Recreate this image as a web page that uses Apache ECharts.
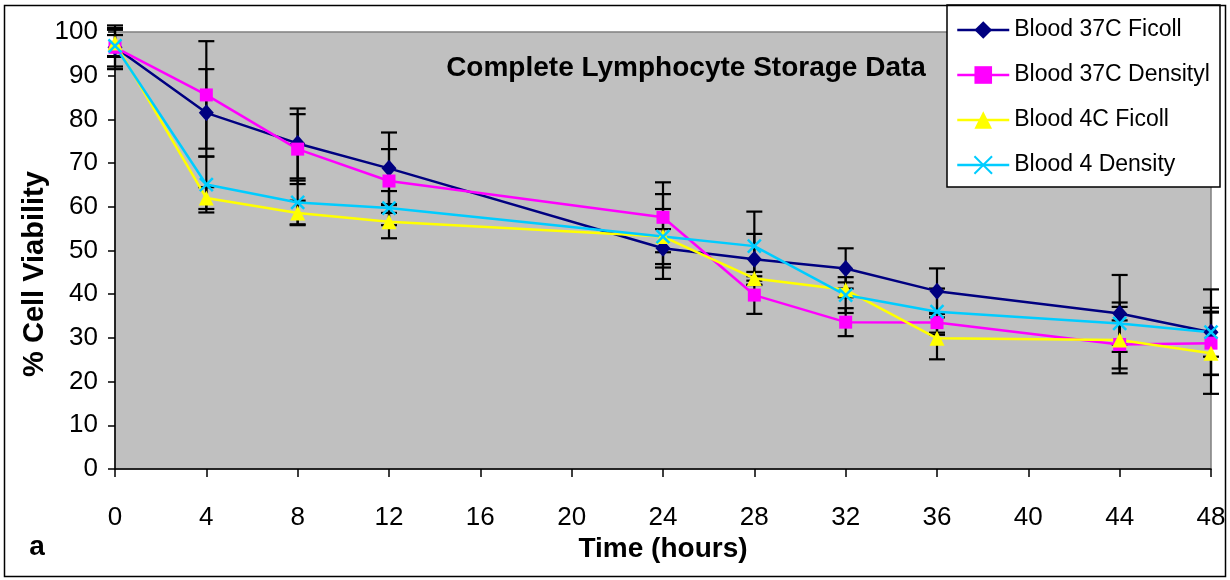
<!DOCTYPE html>
<html>
<head>
<meta charset="utf-8">
<script src="https://cdn.jsdelivr.net/npm/echarts@6/dist/echarts.min.js"></script>
<style>
  html, body { margin: 0; padding: 0; background: #ffffff; }
  #chart { width: 1230px; height: 580px; }
</style>
</head>
<body>
<div id="chart"></div>
<script>
// Storage time points (hours)
const hours = [0, 4, 8, 12, 24, 28, 32, 36, 44, 48];

// Mean % viability per storage condition
const blood37Ficoll  = [96.5, 81.5, 74.5, 68.8, 50.5, 48.0, 45.9, 40.7, 35.6, 31.3];
const blood37Density = [96.5, 85.6, 73.2, 65.9, 57.6, 39.8, 33.6, 33.5, 28.5, 28.8];
const blood4Ficoll   = [97.5, 62.0, 58.6, 56.6, 53.2, 43.6, 41.0, 29.9, 29.5, 26.5];
const blood4Density  = [96.8, 65.1, 61.0, 59.7, 53.2, 51.0, 39.8, 36.0, 33.3, 31.3];

// Error (± value) per point
const err37Ficoll  = [5.0, 10.0, 8.0, 8.2, 4.4, 5.8, 4.6, 5.2, 8.8, 9.8];
const err37Density = [4.4, 12.3, 8.0, 7.3, 8.0, 4.3, 3.2, 2.3, 5.5, 7.2];
const err4Ficoll   = [3.0, 2.5, 2.8, 3.8, 6.3, 1.5, 1.7, 4.8, 7.6, 9.3];
const err4Density  = [2.5, 6.4, 5.0, 3.9, 9.7, 7.9, 4.1, 5.3, 4.8, 5.6];

const seriesNames = ['Blood 37C Ficoll', 'Blood 37C Densityl', 'Blood 4C Ficoll', 'Blood 4 Density'];
const yTicks = { min: 0, max: 100, step: 10 };
const xTicks = { min: 0, max: 48, step: 4 };

const FONT = '"Liberation Sans", Arial, sans-serif';

function pairs(vals) {
  return hours.map((h, i) => [h, vals[i]]);
}
function errRows(vals, errs) {
  return hours.map((h, i) => [h, vals[i] - errs[i], vals[i] + errs[i]]);
}

function renderErr(params, api) {
  const x = api.value(0);
  const lo = api.coord([x, api.value(1)]);
  const hi = api.coord([x, api.value(2)]);
  const half = 8;
  const st = { stroke: '#000000', lineWidth: 2.2, fill: null };
  return {
    type: 'group',
    children: [
      { type: 'line', shape: { x1: lo[0], y1: lo[1], x2: hi[0], y2: hi[1] }, style: st },
      { type: 'line', shape: { x1: lo[0] - half, y1: lo[1], x2: lo[0] + half, y2: lo[1] }, style: st },
      { type: 'line', shape: { x1: hi[0] - half, y1: hi[1], x2: hi[0] + half, y2: hi[1] }, style: st }
    ]
  };
}

function errSeries(vals, errs) {
  return {
    type: 'custom',
    renderItem: renderErr,
    data: errRows(vals, errs),
    encode: { x: 0, y: [1, 2] },
    clip: false,
    silent: true,
    z: 1
  };
}

function lineSeries(name, vals, color, symbol, size, extraItem) {
  return {
    name: name,
    type: 'line',
    data: pairs(vals),
    symbol: symbol,
    symbolSize: size,
    showAllSymbol: true,
    lineStyle: { color: color, width: 2.5 },
    itemStyle: Object.assign({ color: color }, extraItem || {}),
    emphasis: { disabled: true },
    animation: false,
    z: 3
  };
}

const chart = echarts.init(document.getElementById('chart'), null, { renderer: 'canvas' });

chart.setOption({
  animation: false,
  backgroundColor: '#ffffff',
  grid: {
    left: 115, right: 19, top: 32, bottom: 111,
    show: true,
    backgroundColor: '#c0c0c0',
    borderColor: '#808080',
    borderWidth: 1.5
  },
  xAxis: {
    type: 'value',
    min: xTicks.min, max: xTicks.max, interval: xTicks.step,
    axisLine: { show: true, lineStyle: { color: '#000000', width: 1.5 } },
    axisTick: { show: true, inside: false, length: 8, lineStyle: { color: '#000000', width: 1.5 } },
    axisLabel: { fontFamily: FONT, fontSize: 26, color: '#000000', margin: 36 },
    splitLine: { show: false }
  },
  yAxis: {
    type: 'value',
    min: yTicks.min, max: yTicks.max, interval: yTicks.step,
    axisLine: { show: true, lineStyle: { color: '#000000', width: 1.5 } },
    axisTick: { show: true, inside: false, length: 7, lineStyle: { color: '#000000', width: 1.5 } },
    axisLabel: { fontFamily: FONT, fontSize: 26, color: '#000000', margin: 17 },
    splitLine: { show: false }
  },
  legend: {
    show: true,
    orient: 'vertical',
    left: 956,
    top: 18,
    padding: 0,
    itemGap: 21,
    itemWidth: 52,
    itemHeight: 22,
    data: seriesNames,
    lineStyle: { width: 2.5 },
    textStyle: { fontFamily: FONT, fontSize: 23, lineHeight: 24, color: '#000000' },
    selectedMode: false,
    z: 20
  },
  graphic: [
    {
      type: 'rect', z: 100, silent: true,
      shape: { x: 4.5, y: 5.5, width: 1221, height: 571 },
      style: { fill: null, stroke: '#000000', lineWidth: 1.5 }
    },
    {
      type: 'rect', z: 10, silent: true,
      shape: { x: 947, y: 5, width: 273, height: 182 },
      style: { fill: '#ffffff', stroke: '#000000', lineWidth: 1.5 }
    },
    {
      type: 'text', z: 100, silent: true,
      style: {
        text: 'Complete Lymphocyte Storage Data',
        x: 686, y: 68, textAlign: 'center', textVerticalAlign: 'middle',
        fontFamily: FONT, fontSize: 28, fontWeight: 'bold', fill: '#000000'
      }
    },
    {
      type: 'text', z: 100, silent: true,
      style: {
        text: 'Time (hours)',
        x: 663, y: 549, textAlign: 'center', textVerticalAlign: 'middle',
        fontFamily: FONT, fontSize: 28, fontWeight: 'bold', fill: '#000000'
      }
    },
    {
      type: 'text', z: 100, silent: true,
      x: 35, y: 274, rotation: Math.PI / 2,
      style: {
        text: '% Cell Viability',
        x: 0, y: 0, textAlign: 'center', textVerticalAlign: 'middle',
        fontFamily: FONT, fontSize: 29, fontWeight: 'bold', fill: '#000000'
      }
    },
    {
      type: 'text', z: 100, silent: true,
      style: {
        text: 'a',
        x: 37, y: 547, textAlign: 'center', textVerticalAlign: 'middle',
        fontFamily: FONT, fontSize: 28, fontWeight: 'bold', fill: '#000000'
      }
    }
  ],
  series: [
    errSeries(blood37Ficoll, err37Ficoll),
    errSeries(blood37Density, err37Density),
    errSeries(blood4Ficoll, err4Ficoll),
    errSeries(blood4Density, err4Density),
    lineSeries(seriesNames[0], blood37Ficoll, '#000080', 'diamond', [15, 17]),
    lineSeries(seriesNames[1], blood37Density, '#ff00ff', 'rect', 13),
    lineSeries(seriesNames[2], blood4Ficoll, '#ffff00', 'triangle', 15),
    lineSeries(seriesNames[3], blood4Density, '#00ccff', 'path://M0,0L10,10M10,0L0,10', 13,
      { borderColor: '#00ccff', borderWidth: 2.5 })
  ]
});
</script>
</body>
</html>
